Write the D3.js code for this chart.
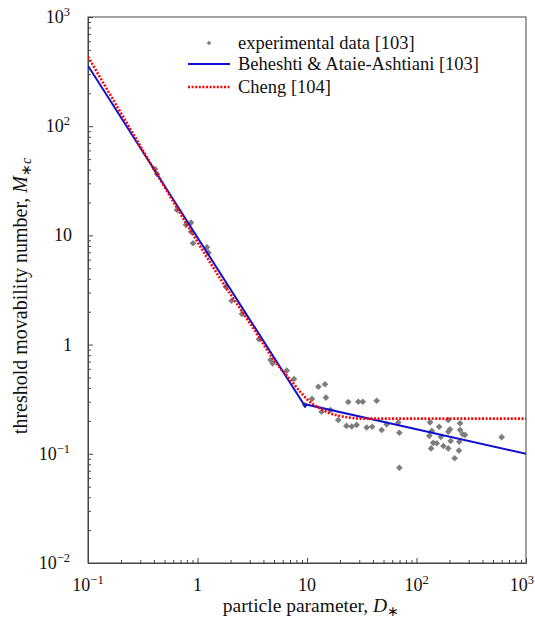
<!DOCTYPE html>
<html><head><meta charset="utf-8">
<script src="https://cdn.jsdelivr.net/npm/d3@7/dist/d3.min.js"></script>
<style>body{margin:0;background:#fff}</style>
</head><body>
<svg id="c" width="535" height="625"></svg>
<script>
// experimental data [103]
const expD = [0.409,0.427,0.650,0.785,0.873,0.873,0.910,1.22,1.26,1.81,2.05,2.55,3.64,4.64,4.86,6.53,7.61,9.59,11.1,12.7,14.6,14.9,13.6,16.4,19.3,23.8,22.9,25.6,28.4,29.4,32.3,43.3,35.1,39.4,48.1,53.4,68.2,69.7,69.7,133,138,131,161,142,136,153,176,195,195,202,195,205,167,250,250,264,246,277,244,223,600];
const expM = [40.5,36.5,17.1,12.5,13.1,10.8,8.47,7.78,6.95,3.39,2.52,1.91,1.12,0.723,0.674,0.577,0.484,0.280,0.318,0.411,0.433,0.327,0.243,0.252,0.204,0.298,0.180,0.178,0.184,0.300,0.300,0.306,0.174,0.177,0.165,0.186,0.193,0.156,0.0746,0.194,0.162,0.146,0.177,0.126,0.112,0.125,0.118,0.112,0.204,0.168,0.159,0.131,0.143,0.190,0.165,0.151,0.129,0.149,0.107,0.091,0.142];
// Beheshti & Ataie-Ashtiani [103]
const bD = [0.1, 9.6, 9.8, 1000];
const bM = [358, 0.272, 0.283, 0.1];
// Cheng [104]
const cD = [0.1,0.2,0.4,1,1.6,3,5.67,7.0,8.63,10.6,13.1,16.2,20,24.7,30.5,50,1000];
const cM = [433,132,40.5,8.7,4.07,1.58,0.61,0.481,0.371,0.30,0.261,0.235,0.222,0.214,0.21,0.21,0.21];
// ticks
const xTickVals = [0.1,1,10,100,1000];
const xTickLabels = [["10","−1"],["1",""],["10",""],["10","2"],["10","3"]];
const yTickVals = [0.01,0.1,1,10,100,1000];
const yTickLabels = [["10","−2"],["10","−1"],["1",""],["10",""],["10","2"],["10","3"]];
const legendLabels = ["experimental data [103]","Beheshti & Ataie-Ashtiani [103]","Cheng [104]"];

const FONT="Liberation Serif";
const L=88,T=17,R=526,B=563;
const svg=d3.select("#c");
const x=d3.scaleLog().domain([0.1,1000]).range([L,R]);
const y=d3.scaleLog().domain([0.01,1000]).range([B,T]);

function minors(lo,hi){const a=[];for(let e=lo;e<hi;e++){for(let k=2;k<=9;k++)a.push(k*Math.pow(10,e));}return a;}

// minor ticks
svg.append("g").attr("transform",`translate(0,${B})`)
  .call(d3.axisBottom(x).tickValues(minors(-1,3)).tickSize(-3).tickFormat(""))
  .call(g=>g.select(".domain").remove());
svg.append("g").attr("transform",`translate(${L},0)`)
  .call(d3.axisLeft(y).tickValues(minors(-2,3)).tickSize(-3).tickFormat(""))
  .call(g=>g.select(".domain").remove());
// major ticks
svg.append("g").attr("transform",`translate(0,${B})`)
  .call(d3.axisBottom(x).tickValues(xTickVals).tickSize(-5).tickFormat(""));
svg.append("g").attr("transform",`translate(${L},0)`)
  .call(d3.axisLeft(y).tickValues(yTickVals).tickSize(-5).tickFormat(""));
svg.selectAll(".tick line").attr("stroke","#444");
svg.selectAll(".domain").attr("stroke","#444");
// frame
svg.append("rect").attr("x",L).attr("y",T).attr("width",R-L).attr("height",B-T)
  .attr("fill","none").attr("stroke","#444").attr("stroke-width",1);

function txt(sel){return sel.append("text").attr("font-family",FONT).attr("fill","#111");}
function supLabel(sel,base,exp){
  sel.append("tspan").text(base);
  if(exp) sel.append("tspan").attr("dy","-0.55em").attr("font-size","12.5px").text(exp);
}
xTickVals.forEach((v,i)=>{
  const last=i===xTickVals.length-1;
  const t=txt(svg).attr("x",last?534:x(v)).attr("y",B+28)
    .attr("text-anchor",last?"end":"middle").attr("font-size","18px");
  supLabel(t,xTickLabels[i][0],xTickLabels[i][1]);
});
yTickVals.forEach((v,i)=>{
  const hasExp=!!yTickLabels[i][1];
  const t=txt(svg).attr("x",hasExp?70:72).attr("y",y(v)+6).attr("text-anchor","end").attr("font-size","18px");
  supLabel(t,yTickLabels[i][0],yTickLabels[i][1]);
});

// axis titles
const xt=txt(svg).attr("x",311).attr("y",612).attr("text-anchor","middle").attr("font-size","19.5px");
xt.append("tspan").text("particle parameter, ");
xt.append("tspan").attr("font-style","italic").text("D");
xt.append("tspan").attr("dy","4").attr("font-size","14px").text("∗");
const yt=txt(svg).attr("transform","translate(27,296) rotate(-90)").attr("text-anchor","middle").attr("font-size","20px");
yt.append("tspan").text("threshold movability number, ");
yt.append("tspan").attr("font-style","italic").text("M");
yt.append("tspan").attr("dy","4").attr("font-size","14px").text("∗");
yt.append("tspan").attr("font-size","14px").attr("font-style","italic").text("c");

// lines
svg.append("clipPath").attr("id","pc").append("rect").attr("x",L).attr("y",T).attr("width",R-L).attr("height",B-T);
const line=d3.line().x(d=>x(d[0])).y(d=>y(d[1]));
const plot=svg.append("g").attr("clip-path","url(#pc)");
const sym=d3.symbol().type(d3.symbolSquare).size(22);
plot.selectAll("path.pt").data(expD.map((d,i)=>[d,expM[i]])).join("path").attr("class","pt")
  .attr("d",sym).attr("transform",d=>`translate(${x(d[0])},${y(d[1])}) rotate(45)`).attr("fill","#7d7d7d");
plot.append("path").datum(bD.map((d,i)=>[d,bM[i]])).attr("d",line).attr("fill","none").attr("stroke","#1010d0").attr("stroke-width",2);
plot.append("path").datum(cD.map((d,i)=>[d,cM[i]])).attr("d",line.curve(d3.curveMonotoneX)).attr("fill","none")
  .attr("stroke","#ff0000").attr("stroke-width",2.6).attr("stroke-dasharray","2,1.6");

// legend
const lg=svg.append("g");
lg.append("path").attr("d",d3.symbol().type(d3.symbolSquare).size(10)).attr("transform","translate(209,43) rotate(45)").attr("fill","#7d7d7d");
lg.append("line").attr("x1",188).attr("x2",230).attr("y1",64).attr("y2",64).attr("stroke","#1010d0").attr("stroke-width",2);
lg.append("line").attr("x1",188).attr("x2",230).attr("y1",87).attr("y2",87).attr("stroke","#ff0000").attr("stroke-width",2.6).attr("stroke-dasharray","2,1.6");
[43,64,87].forEach((yy,i)=>{
  txt(lg).attr("x",238).attr("y",yy+6).attr("font-size","18.5px").text(legendLabels[i]);
});
</script>
</body></html>
